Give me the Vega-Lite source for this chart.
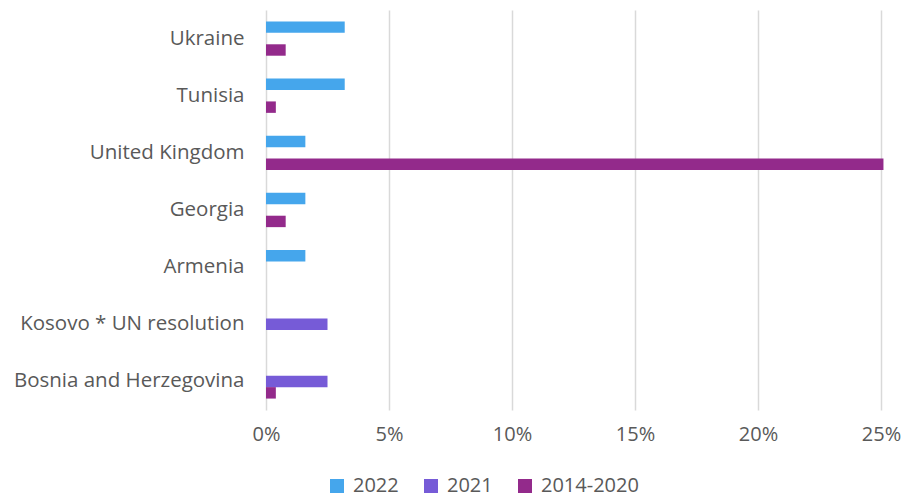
{
  "$schema": "https://vega.github.io/schema/vega-lite/v6.json",
  "width": 615,
  "height": 400,
  "autosize": {"type": "none"},
  "padding": {"left": 266, "top": 10, "right": 20, "bottom": 90},
  "background": "white",
  "data": {
    "values": [
      {"country": "Ukraine", "period": "2022", "share": 3.2},
      {"country": "Ukraine", "period": "2014-2020", "share": 0.8},
      {"country": "Tunisia", "period": "2022", "share": 3.2},
      {"country": "Tunisia", "period": "2014-2020", "share": 0.4},
      {"country": "United Kingdom ", "period": "2022", "share": 1.6},
      {"country": "United Kingdom ", "period": "2014-2020", "share": 25.1},
      {"country": "Georgia", "period": "2022", "share": 1.6},
      {"country": "Georgia", "period": "2014-2020", "share": 0.8},
      {"country": "Armenia", "period": "2022", "share": 1.6},
      {"country": "Kosovo * UN resolution", "period": "2021", "share": 2.5},
      {"country": "Bosnia and Herzegovina", "period": "2021", "share": 2.5},
      {"country": "Bosnia and Herzegovina", "period": "2014-2020", "share": 0.4}
    ]
  },
  "mark": {"type": "bar", "clip": false},
  "encoding": {
    "y": {
      "field": "country",
      "type": "nominal",
      "sort": ["Ukraine", "Tunisia", "United Kingdom ", "Georgia", "Armenia", "Kosovo * UN resolution", "Bosnia and Herzegovina"],
      "scale": {"paddingInner": 0.4, "paddingOuter": 0.2},
      "axis": {
        "title": null,
        "domain": false,
        "ticks": false,
        "labelPadding": 22,
        "labelFont": "Open Sans",
        "labelFontSize": 20.5,
        "labelColor": "#595959",
        "labelLimit": 300
      }
    },
    "yOffset": {
      "field": "period",
      "type": "nominal",
      "sort": ["2022", "2021", "2014-2020"],
      "scale": {"domain": ["2022", "2021", "2014-2020"], "paddingInner": 0, "paddingOuter": 0}
    },
    "x": {
      "field": "share",
      "type": "quantitative",
      "scale": {"domain": [0, 25], "nice": false},
      "axis": {
        "title": null,
        "values": [0, 5, 10, 15, 20, 25],
        "labelExpr": "datum.value + '%'",
        "labelFlush": false,
        "domain": false,
        "ticks": false,
        "grid": true,
        "gridColor": "#d9d9d9",
        "gridWidth": 1.5,
        "labelPadding": 14,
        "labelFont": "Open Sans",
        "labelFontSize": 20,
        "labelColor": "#595959"
      }
    },
    "color": {
      "field": "period",
      "type": "nominal",
      "scale": {"domain": ["2022", "2021", "2014-2020"], "range": ["#45A6EC", "#765BD7", "#932A8B"]},
      "legend": {
        "title": null,
        "orient": "none",
        "direction": "horizontal",
        "legendX": 61,
        "legendY": 466,
        "symbolType": "square",
        "symbolSize": 196,
        "symbolStrokeWidth": 0,
        "labelFont": "Open Sans",
        "labelFontSize": 20,
        "labelColor": "#595959",
        "labelOffset": 6,
        "columnPadding": 22
      }
    }
  },
  "config": {"view": {"stroke": null}}
}
